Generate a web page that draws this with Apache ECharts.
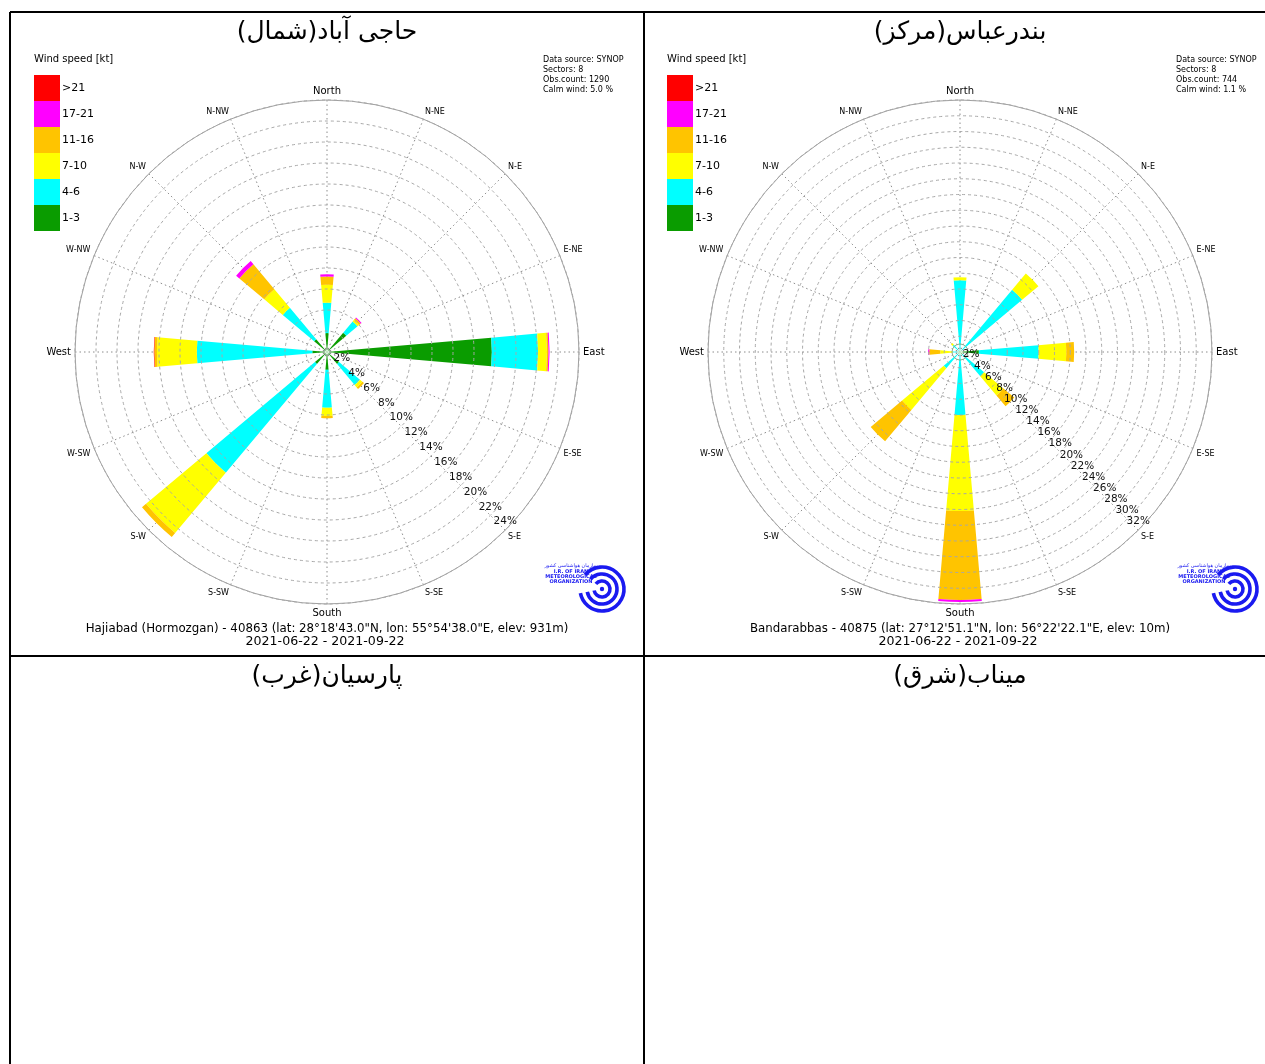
<!DOCTYPE html>
<html>
<head>
<meta charset="utf-8">
<script src="https://cdn.jsdelivr.net/npm/echarts@6/dist/echarts.min.js"></script>
<style>
  html, body { margin: 0; padding: 0; background: #ffffff; }
  #main { width: 1265px; height: 1064px; }
</style>
</head>
<body>
<div id="main"></div>
<script>
// Wind speed classes (kt) and their colours, from calmest to strongest
const speedClasses = ['1-3', '4-6', '7-10', '11-16', '17-21', '>21'];
const classColors = ['#0a9c00', '#00ffff', '#ffff00', '#ffc400', '#ff00ff', '#ff0000'];

// Sector directions (compass degrees): N, NE, E, SE, S, SW, W, NW
const directions = [0, 45, 90, 135, 180, 225, 270, 315];

// Compass names for the 16 grid spokes
const spokeNames = ['North', 'N-NE', 'N-E', 'E-NE', 'East', 'E-SE', 'S-E', 'S-SE',
                    'South', 'S-SW', 'S-W', 'W-SW', 'West', 'W-NW', 'N-W', 'N-NW'];

// Hajiabad: frequency (%) of each speed class per sector
const hajiabad_1_3   = [1.8, 2.4, 15.7, 1.5, 1.7, 1.5, 1.4, 1.6];
const hajiabad_4_6   = [2.9, 1.4, 4.4, 2.6, 3.6, 13.5, 11.0, 3.9];
const hajiabad_7_10  = [1.7, 0.2, 0.85, 0.3, 0.8, 7.5, 3.8, 2.3];
const hajiabad_11_16 = [0.8, 0.2, 0.15, 0.2, 0.2, 0.5, 0.25, 3.1];
const hajiabad_17_21 = [0.2, 0.1, 0.1, 0, 0, 0, 0, 0.4];
const hajiabad_gt21  = [0, 0, 0, 0, 0, 0, 0.05, 0];

// Bandarabbas: frequency (%) of each speed class per sector
const bandar_1_3   = [0.3, 0.3, 2.4, 0.4, 0.3, 0.3, 0.3, 0.2];
const bandar_4_6   = [8.8, 10.0, 7.6, 3.6, 7.7, 2.4, 0.6, 1.0];
const bandar_7_10  = [0.4, 2.7, 3.5, 3.2, 12.2, 6.9, 1.6, 0.3];
const bandar_11_16 = [0, 0, 1.0, 1.8, 11.3, 5.2, 1.4, 0];
const bandar_17_21 = [0, 0, 0, 0, 0.25, 0, 0.15, 0];
const bandar_gt21  = [0, 0, 0, 0, 0, 0, 0, 0];

// Radius axis ceilings (%)
const hajiabadMaxPct = 24;
const bandarMaxPct = 32;

// Station texts
const hajiabadTitle = 'حاجی آباد(شمال)';
const bandarTitle = 'بندرعباس(مرکز)';
const parsianTitle = 'پارسیان(غرب)';
const minabTitle = 'میناب(شرق)';
const hajiabadInfo = ['Data source: SYNOP', 'Sectors: 8', 'Obs.count: 1290', 'Calm wind: 5.0 %'];
const bandarInfo = ['Data source: SYNOP', 'Sectors: 8', 'Obs.count: 744', 'Calm wind: 1.1 %'];
const hajiabadStation = 'Hajiabad (Hormozgan) - 40863 (lat: 28°18\'43.0"N, lon: 55°54\'38.0"E, elev: 931m)';
const bandarStation = 'Bandarabbas - 40875 (lat: 27°12\'51.1"N, lon: 56°22\'22.1"E, elev: 10m)';
const period = '2021-06-22 - 2021-09-22';

const hajiabadClasses = [hajiabad_1_3, hajiabad_4_6, hajiabad_7_10, hajiabad_11_16, hajiabad_17_21, hajiabad_gt21];
const bandarClasses = [bandar_1_3, bandar_4_6, bandar_7_10, bandar_11_16, bandar_17_21, bandar_gt21];

const FONT = '"DejaVu Sans", sans-serif';
const SECTOR_HALF_WIDTH = 5; // degrees either side of the sector direction

// Draws one speed-class segment of a sector as an annular wedge
function sectorRenderer(params, api) {
  const cs = params.coordSys;
  const dir = api.value(0);
  const base = api.value(1);
  const top = api.value(2);
  if (!(top > base)) return null;
  const p0 = api.coord([base, 180]);
  const p1 = api.coord([top, 180]);
  const r0 = Math.hypot(p0[0] - cs.cx, p0[1] - cs.cy);
  const r1 = Math.hypot(p1[0] - cs.cx, p1[1] - cs.cy);
  const mid = (dir - 90) * Math.PI / 180;
  const half = SECTOR_HALF_WIDTH * Math.PI / 180;
  return {
    type: 'sector',
    shape: { cx: cs.cx, cy: cs.cy, r0: r0, r: r1, startAngle: mid - half, endAngle: mid + half, clockwise: true },
    style: { fill: api.visual('color') }
  };
}

function buildRoseSeries(classes, polarIndex) {
  const cumulative = directions.map(() => 0);
  return classes.map((values, k) => {
    const data = directions.map((d, i) => {
      const base = cumulative[i];
      cumulative[i] += values[i];
      return [d, base, cumulative[i]];
    });
    return {
      type: 'custom',
      name: speedClasses[k],
      coordinateSystem: 'polar',
      polarIndex: polarIndex,
      itemStyle: { color: classColors[k] },
      encode: { radius: 2, angle: 0 },
      renderItem: sectorRenderer,
      data: data,
      z: 3,
      silent: true
    };
  });
}

// Small ring at the rose centre for calm observations
function calmSeries(polarIndex, ringRadius) {
  return {
    type: 'custom',
    coordinateSystem: 'polar',
    polarIndex: polarIndex,
    silent: true,
    z: 4,
    data: [[0, 0]],
    renderItem: function (params) {
      const cs = params.coordSys;
      return {
        type: 'circle',
        shape: { cx: cs.cx, cy: cs.cy, r: ringRadius },
        style: { fill: 'none', stroke: '#8fb08f', lineWidth: 1 }
      };
    }
  };
}

function angleAxisFor(polarIndex) {
  return {
    polarIndex: polarIndex,
    type: 'value',
    min: 135,
    max: 495,
    interval: 22.5,
    startAngle: 315,
    clockwise: true,
    axisLine: { show: true, lineStyle: { color: '#a0a0a0', width: 1 } },
    axisTick: { show: false },
    splitLine: { show: true, lineStyle: { color: '#8c8c8c', width: 1, type: [1.5, 3] } },
    axisLabel: {
      margin: 4,
      color: '#000',
      formatter: function (v) {
        if (v >= 495) return '';
        const idx = Math.round((v % 360) / 22.5) % 16;
        const name = spokeNames[idx];
        return idx % 4 === 0 ? '{c|' + name + '}' : '{m|' + name + '}';
      },
      rich: {
        c: { fontFamily: FONT, fontSize: 10, color: '#000' },
        m: { fontFamily: FONT, fontSize: 8, color: '#000' }
      }
    }
  };
}

function radiusAxisFor(polarIndex, maxPct) {
  return {
    polarIndex: polarIndex,
    type: 'value',
    min: 0,
    max: maxPct,
    interval: 2,
    z: 10,
    axisLine: { show: false },
    axisTick: { show: false },
    splitLine: { show: true, lineStyle: { color: '#a8a8a8', width: 1, type: [3, 3] } },
    axisLabel: {
      color: '#111',
      fontFamily: FONT,
      fontSize: 10.5,
      margin: 0,
      align: 'center',
      verticalAlign: 'bottom',
      padding: [0, 0, 3, 0],
      showMaxLabel: true,
      formatter: function (v) { return v === 0 ? '' : v + '%'; }
    }
  };
}

function legendFor(left) {
  return {
    left: left,
    top: 75,
    orient: 'vertical',
    icon: 'rect',
    itemWidth: 26,
    itemHeight: 26,
    itemGap: 0,
    padding: 0,
    selectedMode: false,
    data: speedClasses.slice().reverse(),
    textStyle: { fontFamily: FONT, fontSize: 11, color: '#000', padding: [0, 0, 0, -3] }
  };
}

// Headers, captions and the emblem for one station panel
function panelGraphics(dx, infoLines, stationLine, title) {
  const els = [];
  els.push({ type: 'text', x: 327 + dx, y: 32, style: { text: '\u200F' + title + '\u200F', font: '25px ' + FONT, fill: '#000', align: 'center', verticalAlign: 'middle' } });
  els.push({ type: 'text', x: 34 + dx, y: 59, style: { text: 'Wind speed [kt]', font: '10px ' + FONT, fill: '#000', align: 'left', verticalAlign: 'middle' } });
  infoLines.forEach((line, i) => {
    els.push({ type: 'text', x: 543 + dx, y: 60 + i * 10, style: { text: line, font: '8px ' + FONT, fill: '#000', align: 'left', verticalAlign: 'middle' } });
  });
  els.push({ type: 'text', x: 327 + dx, y: 629, style: { text: stationLine, font: '11.8px ' + FONT, fill: '#000', align: 'center', verticalAlign: 'middle' } });
  els.push({ type: 'text', x: 325 + dx, y: 642, style: { text: period, font: '12.6px ' + FONT, fill: '#000', align: 'center', verticalAlign: 'middle' } });
  // emblem
  const ex = 602 + dx, ey = 589, blue = '#1a1af0';
  [22, 15, 8].forEach(r => {
    els.push({ type: 'arc', shape: { cx: ex, cy: ey, r: r, startAngle: -2.45, endAngle: 2.95, clockwise: true }, style: { stroke: blue, lineWidth: 3.6, fill: 'none' } });
  });
  els.push({ type: 'circle', shape: { cx: ex, cy: ey, r: 2.2 }, style: { fill: blue } });
  els.push({ type: 'text', x: 571 + dx, y: 566, style: { text: 'سازمان هواشناسی کشور', font: '5px ' + FONT, fill: blue, align: 'center', verticalAlign: 'middle' } });
  ['I.R. OF IRAN', 'METEOROLOGICAL', 'ORGANIZATION'].forEach((t, i) => {
    els.push({ type: 'text', x: 571 + dx, y: 571.5 + i * 5.2, style: { text: t, font: 'bold 5px ' + FONT, fill: blue, align: 'center', verticalAlign: 'middle' } });
  });
  return els;
}

const tableLines = [
  [10, 12, 1265, 12],
  [10, 12, 10, 1064],
  [644, 12, 644, 1064],
  [10, 656, 1265, 656]
].map(l => ({ type: 'line', shape: { x1: l[0], y1: l[1], x2: l[2], y2: l[3] }, style: { stroke: '#000', lineWidth: 2 }, z: 20 }));

const lowerTitles = [
  { type: 'text', x: 327, y: 676, style: { text: '\u200F' + parsianTitle + '\u200F', font: '25px ' + FONT, fill: '#000', align: 'center', verticalAlign: 'middle' } },
  { type: 'text', x: 960, y: 676, style: { text: '\u200F' + minabTitle + '\u200F', font: '25px ' + FONT, fill: '#000', align: 'center', verticalAlign: 'middle' } }
];

const chart = echarts.init(document.getElementById('main'), null, { renderer: 'canvas' });

chart.setOption({
  backgroundColor: '#ffffff',
  animation: false,
  polar: [
    { center: [327, 352], radius: 252 },
    { center: [960, 352], radius: 252 }
  ],
  angleAxis: [angleAxisFor(0), angleAxisFor(1)],
  radiusAxis: [radiusAxisFor(0, hajiabadMaxPct), radiusAxisFor(1, bandarMaxPct)],
  legend: [legendFor(34), legendFor(667)],
  series: [
    ...buildRoseSeries(hajiabadClasses, 0),
    ...buildRoseSeries(bandarClasses, 1),
    calmSeries(0, 3),
    calmSeries(1, 8)
  ],
  graphic: [
    ...tableLines,
    ...panelGraphics(0, hajiabadInfo, hajiabadStation, hajiabadTitle),
    ...panelGraphics(633, bandarInfo, bandarStation, bandarTitle),
    ...lowerTitles
  ]
});
</script>
</body>
</html>
